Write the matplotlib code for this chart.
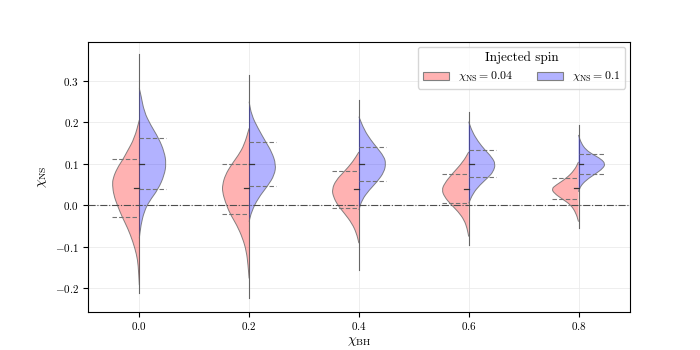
import numpy as np
import matplotlib.pyplot as plt
from matplotlib.patches import Patch, PathPatch
from matplotlib.path import Path

plt.rcParams['font.family'] = 'serif'
plt.rcParams['font.serif'] = ['cmr10']
plt.rcParams['mathtext.fontset'] = 'cm'
plt.rcParams['axes.formatter.use_mathtext'] = True

# black hole spin, one violin pair per value
chi_bh = [0.0, 0.2, 0.4, 0.6, 0.8]
labels = [r'$\chi_{\rm NS} = 0.04$', r'$\chi_{\rm NS} = 0.1$']

# left half (chi_NS = 0.04): outline heights and density relative to its peak
red_y = [
    [0.205, 0.161, 0.128, 0.110, 0.088, 0.064, 0.048, 0.024, 0.000, -0.030, -0.056, -0.088, -0.120, -0.145, -0.193],
    [0.185, 0.145, 0.120, 0.098, 0.072, 0.048, 0.032, 0.008, -0.021, -0.048, -0.080, -0.112, -0.145, -0.177],
    [0.128, 0.104, 0.081, 0.060, 0.038, 0.020, 0.000, -0.020, -0.044, -0.068, -0.092],
    [0.128, 0.104, 0.074, 0.052, 0.036, 0.020, 0.004, -0.016, -0.036, -0.056, -0.076],
    [0.104, 0.084, 0.064, 0.048, 0.039, 0.028, 0.014, 0.000, -0.020, -0.040],
]
red_d = [
    [0.0, 0.18, 0.46, 0.61, 0.83, 0.98, 1.0, 0.95, 0.82, 0.63, 0.43, 0.24, 0.10, 0.04, 0.0],
    [0.0, 0.18, 0.40, 0.65, 0.89, 0.99, 0.99, 0.89, 0.71, 0.46, 0.24, 0.10, 0.04, 0.0],
    [0.0, 0.23, 0.54, 0.85, 1.0, 0.95, 0.79, 0.54, 0.26, 0.09, 0.0],
    [0.0, 0.21, 0.63, 0.90, 1.0, 0.90, 0.70, 0.39, 0.17, 0.06, 0.0],
    [0.0, 0.15, 0.46, 0.84, 1.0, 0.90, 0.59, 0.28, 0.09, 0.0],
]
red_lo = [-0.030, -0.021, -0.006, 0.004, 0.014]
red_med = [0.040, 0.040, 0.038, 0.038, 0.040]
red_hi = [0.110, 0.098, 0.081, 0.074, 0.064]
red_min = [-0.213, -0.225, -0.157, -0.096, -0.056]

# right half (chi_NS = 0.1)
blue_y = [
    [0.281, 0.265, 0.225, 0.193, 0.161, 0.128, 0.100, 0.072, 0.038, 0.008, -0.016, -0.048, -0.080],
    [0.249, 0.217, 0.185, 0.151, 0.128, 0.098, 0.072, 0.047, 0.016, -0.016, -0.040],
    [0.213, 0.181, 0.157, 0.140, 0.116, 0.100, 0.080, 0.057, 0.036, 0.012, -0.012],
    [0.201, 0.177, 0.153, 0.133, 0.116, 0.099, 0.080, 0.067, 0.048, 0.028, 0.004],
    [0.169, 0.149, 0.133, 0.122, 0.111, 0.099, 0.088, 0.076, 0.060, 0.044, 0.032],
]
blue_d = [
    [0.0, 0.06, 0.18, 0.42, 0.72, 0.93, 1.0, 0.93, 0.70, 0.36, 0.18, 0.06, 0.0],
    [0.0, 0.09, 0.33, 0.63, 0.84, 1.0, 0.94, 0.70, 0.33, 0.09, 0.0],
    [0.0, 0.20, 0.44, 0.65, 0.94, 1.0, 0.94, 0.69, 0.38, 0.11, 0.0],
    [0.0, 0.13, 0.35, 0.60, 0.85, 1.0, 0.91, 0.73, 0.41, 0.16, 0.0],
    [0.0, 0.10, 0.28, 0.53, 0.84, 1.0, 0.90, 0.65, 0.28, 0.06, 0.0],
]
blue_lo = [0.038, 0.047, 0.057, 0.067, 0.076]
blue_med = [0.100, 0.098, 0.100, 0.099, 0.100]
blue_hi = [0.161, 0.151, 0.140, 0.133, 0.122]
blue_max = [0.365, 0.313, 0.253, 0.225, 0.193]

half_w = 0.049   # widest point of each half, in chi_BH units
tick_w = 0.009   # length of the median tick


def half_violin(ax, x0, ys, dens, side, color):
    # smooth outline: quadratic beziers using the read points as control points
    pts = np.column_stack([x0 + side * half_w * np.asarray(dens), ys])
    verts = [tuple(pts[0])]
    codes = [Path.MOVETO]
    verts.append(tuple((pts[0] + pts[1]) / 2)); codes.append(Path.LINETO)
    for k in range(1, len(pts) - 1):
        verts += [tuple(pts[k]), tuple((pts[k] + pts[k + 1]) / 2)]
        codes += [Path.CURVE3, Path.CURVE3]
    verts.append(tuple(pts[-1])); codes.append(Path.LINETO)
    outline = Path(verts, codes)
    ax.add_patch(PathPatch(Path(verts + [verts[0]], codes + [Path.LINETO]),
                           facecolor=color, alpha=0.3, edgecolor='none', zorder=3))
    ax.add_patch(PathPatch(outline, facecolor='none', edgecolor='0.4', lw=0.7,
                           alpha=0.8, zorder=4))


fig, ax = plt.subplots(figsize=(7, 3.5), dpi=100)
ax.grid(True, color='#ebebeb', lw=0.6, zorder=0)

for i, x in enumerate(chi_bh):
    # thin tails along the centre
    ax.plot([x, x], [red_min[i], blue_max[i]], color='0.4', lw=0.8, zorder=2)

    half_violin(ax, x, red_y[i], red_d[i], -1, 'red')
    half_violin(ax, x, blue_y[i], blue_d[i], 1, 'blue')

    for q in (red_lo[i], red_hi[i]):
        ax.plot([x - half_w, x], [q, q], color='0.45', ls=(0, (4, 2)), lw=0.8, zorder=5)
    for q in (blue_lo[i], blue_hi[i]):
        ax.plot([x, x + half_w], [q, q], color='0.45', ls=(0, (4, 2)), lw=0.8, zorder=5)
    ax.plot([x - tick_w, x], [red_med[i]] * 2, color='0.2', lw=0.9, zorder=5)
    ax.plot([x, x + tick_w], [blue_med[i]] * 2, color='0.2', lw=0.9, zorder=5)

ax.axhline(0, color='0.3', ls='-.', lw=0.8, zorder=6)

ax.set_xlim(-0.0944, 0.8938)
ax.set_ylim(-0.2566, 0.393)
ax.set_xticks(chi_bh)
ax.set_yticks([-0.2, -0.1, 0.0, 0.1, 0.2, 0.3])
ax.tick_params(labelsize=8, pad=2.5)
ax.set_xlabel(r'$\chi_{\rm BH}$', fontsize=10, labelpad=2)
ax.set_ylabel(r'$\chi_{\rm NS}$', fontsize=10, labelpad=4)

handles = [Patch(facecolor=(1, 0, 0, 0.3), edgecolor='0.5', lw=0.8),
           Patch(facecolor=(0, 0, 1, 0.3), edgecolor='0.5', lw=0.8)]
ax.legend(handles, labels, title='Injected spin', ncol=2, loc='upper right',
          fontsize=8.5, title_fontsize=9.5, handlelength=2.2, handletextpad=0.8,
          columnspacing=2.0, borderaxespad=0.4)

fig.savefig('out.png', dpi=100)
